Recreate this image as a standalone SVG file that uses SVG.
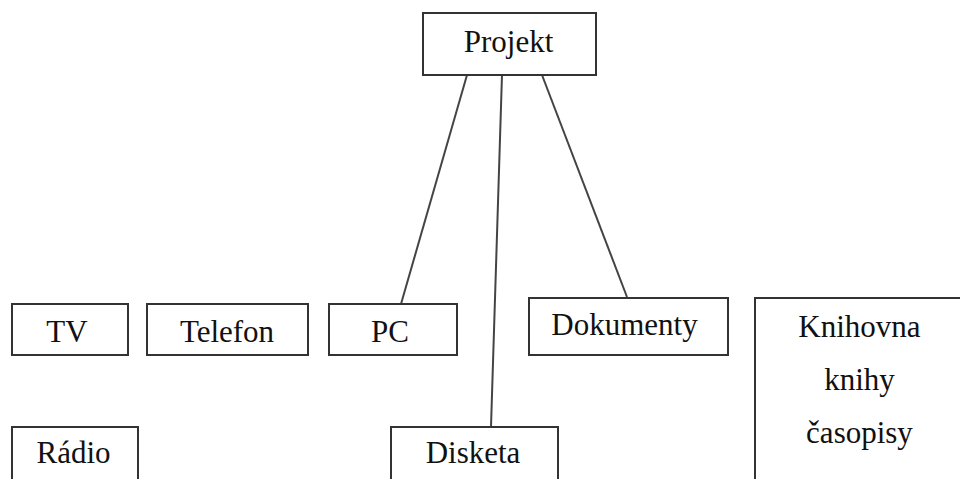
<svg xmlns="http://www.w3.org/2000/svg" width="960" height="479" viewBox="0 0 960 479">
<style>
rect{fill:#fff;stroke:#333;stroke-width:2}
line{stroke:#444;stroke-width:2}
text{font-family:"Liberation Serif","Times New Roman",serif;font-size:31px;fill:#111;text-anchor:middle}
</style>
<rect x="0" y="0" width="960" height="479" style="stroke:none"/>
<g id="connectors">
<line x1="467" y1="75" x2="401" y2="304"/>
<line x1="502" y1="75" x2="491" y2="427"/>
<line x1="542" y1="75" x2="627" y2="297"/>
</g>
<g id="projekt"><rect x="423" y="13" width="173" height="62"/><text x="508.5" y="52">Projekt</text></g>
<g id="tv"><rect x="12" y="304" width="116" height="51"/><text x="67" y="342">TV</text></g>
<g id="telefon"><rect x="147" y="304" width="161" height="51"/><text x="227" y="342">Telefon</text></g>
<g id="pc"><rect x="329" y="304" width="128" height="51"/><text x="390" y="342">PC</text></g>
<g id="dokumenty"><rect x="529" y="298" width="199" height="57"/><text x="624.5" y="335">Dokumenty</text></g>
<g id="knihovna"><rect x="755" y="298" width="215" height="200"/><text x="859.5" y="337">Knihovna</text><text x="859.5" y="390">knihy</text><text x="859.5" y="443">časopisy</text></g>
<g id="radio"><rect x="12" y="427" width="126" height="70"/><text x="73.5" y="463">Rádio</text></g>
<g id="disketa"><rect x="391" y="427" width="167" height="70"/><text x="473" y="463">Disketa</text></g>
</svg>
